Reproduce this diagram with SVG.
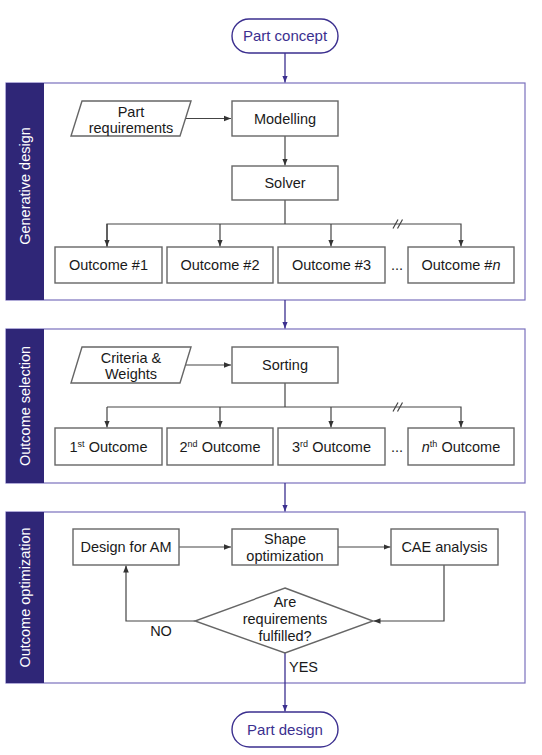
<svg xmlns="http://www.w3.org/2000/svg" width="542" height="755" viewBox="0 0 542 755">
<defs>
<marker id="ag" viewBox="0 0 10 10" refX="10" refY="5" markerWidth="7" markerHeight="7" orient="auto" markerUnits="userSpaceOnUse"><path d="M0,1 L10,5 L0,9 z" fill="#333"/></marker>
<marker id="ap" viewBox="0 0 10 10" refX="10" refY="5" markerWidth="7" markerHeight="7" orient="auto" markerUnits="userSpaceOnUse"><path d="M0,1 L10,5 L0,9 z" fill="#3b2f8f"/></marker>
</defs>
<style>
text{font-family:"Liberation Sans",Arial,sans-serif;font-size:14.5px;fill:#1a1a1a;text-anchor:middle}
.box{fill:#fff;stroke:#666;stroke-width:1.4}
.term{fill:#fff;stroke:#3b2f8f;stroke-width:1.4}
.term-t{fill:#3b2f8f;font-size:15px}
.panel{fill:#fff;stroke:#7a70bd;stroke-width:1.2}
.band{fill:#2f2677}
.band-t{fill:#fff;font-size:14.5px}
.g{fill:none;stroke:#444;stroke-width:1.2}
.p{fill:none;stroke:#3b2f8f;stroke-width:1.3}
.sup{font-size:9px}
</style>
<rect width="542" height="755" fill="#fff"/>

<g id="panel1">
<rect class="panel" x="6" y="83" width="519" height="217"/>
<rect class="band" x="6" y="83" width="38" height="217"/>
<text class="band-t" transform="translate(30,186) rotate(-90)">Generative design</text>
</g>
<g id="panel2">
<rect class="panel" x="6" y="329" width="519" height="154"/>
<rect class="band" x="6" y="329" width="38" height="154"/>
<text class="band-t" transform="translate(30,406) rotate(-90)">Outcome selection</text>
</g>
<g id="panel3">
<rect class="panel" x="6" y="512" width="519" height="171"/>
<rect class="band" x="6" y="512" width="38" height="171"/>
<text class="band-t" transform="translate(30,597.5) rotate(-90)">Outcome optimization</text>
</g>

<g id="connectors">
<path class="p" d="M285,53 V82.5" marker-end="url(#ap)"/>
<path class="p" d="M285,300 V328.5" marker-end="url(#ap)"/>
<path class="p" d="M285,483 V511.5" marker-end="url(#ap)"/>
<path class="g" d="M185.5,118.5 H231" marker-end="url(#ag)"/>
<path class="g" d="M285,136 V165.5" marker-end="url(#ag)"/>
<path class="g" d="M285,200 V224"/>
<path class="g" d="M107,247 V224 H461 V246.5" marker-end="url(#ag)"/>
<path class="g" d="M220,224 V246.5" marker-end="url(#ag)"/>
<path class="g" d="M331,224 V246.5" marker-end="url(#ag)"/>
<path class="g" d="M107,224 V246.5" marker-end="url(#ag)"/>
<path class="g" d="M393,228.5 L398,219.5 M397.5,228.5 L402.5,219.5"/>
<path class="g" d="M185.5,365 H231" marker-end="url(#ag)"/>
<path class="g" d="M285,383 V407"/>
<path class="g" d="M107,407 H461 V427.5" marker-end="url(#ag)"/>
<path class="g" d="M107,407 V427.5" marker-end="url(#ag)"/>
<path class="g" d="M220,407 V427.5" marker-end="url(#ag)"/>
<path class="g" d="M331,407 V427.5" marker-end="url(#ag)"/>
<path class="g" d="M393,411.5 L398,402.5 M397.5,411.5 L402.5,402.5"/>
<path class="g" d="M179,547 H231" marker-end="url(#ag)"/>
<path class="g" d="M338,547 H390.5" marker-end="url(#ag)"/>
<path class="g" d="M444,565 V621 H373.5" marker-end="url(#ag)"/>
<path class="g" d="M195,621 H126 V565.5" marker-end="url(#ag)"/>
<path class="p" d="M285,653 V711.5" marker-end="url(#ap)"/>
</g>

<g id="part-concept">
<rect class="term" x="232" y="19" width="106" height="34" rx="17"/>
<text class="term-t" x="285" y="41">Part concept</text>
</g>
<g id="part-requirements">
<polygon class="box" points="82,101 191,101 180,136 71,136"/>
<text x="131" y="116.5">Part</text>
<text x="131" y="132.5">requirements</text>
</g>
<g id="modelling">
<rect class="box" x="232" y="101" width="106" height="35"/>
<text x="285" y="123.5">Modelling</text>
</g>
<g id="solver">
<rect class="box" x="232" y="166" width="106" height="34"/>
<text x="285" y="188">Solver</text>
</g>
<g id="outcome1">
<rect class="box" x="55" y="247" width="107" height="36"/>
<text x="108.5" y="270">Outcome #1</text>
</g>
<g id="outcome2">
<rect class="box" x="167" y="247" width="106" height="36"/>
<text x="220" y="270">Outcome #2</text>
</g>
<g id="outcome3">
<rect class="box" x="278" y="247" width="107" height="36"/>
<text x="331.5" y="270">Outcome #3</text>
</g>
<text x="397" y="270">...</text>
<g id="outcomen">
<rect class="box" x="408" y="247" width="106" height="36"/>
<text x="461" y="270">Outcome #<tspan font-style="italic">n</tspan></text>
</g>

<g id="criteria">
<polygon class="box" points="82,347 191,347 180,383 71,383"/>
<text x="131" y="362.5">Criteria &amp;</text>
<text x="131" y="378.5">Weights</text>
</g>
<g id="sorting">
<rect class="box" x="232" y="347" width="106" height="36"/>
<text x="285" y="370">Sorting</text>
</g>
<g id="first">
<rect class="box" x="55" y="428" width="107" height="37"/>
<text x="108.5" y="451.5">1<tspan class="sup" dy="-5">st</tspan><tspan dy="5"> Outcome</tspan></text>
</g>
<g id="second">
<rect class="box" x="167" y="428" width="106" height="37"/>
<text x="220" y="451.5">2<tspan class="sup" dy="-5">nd</tspan><tspan dy="5"> Outcome</tspan></text>
</g>
<g id="third">
<rect class="box" x="278" y="428" width="107" height="37"/>
<text x="331.5" y="451.5">3<tspan class="sup" dy="-5">rd</tspan><tspan dy="5"> Outcome</tspan></text>
</g>
<text x="397" y="451.5">...</text>
<g id="nth">
<rect class="box" x="408" y="428" width="106" height="37"/>
<text x="461" y="451.5"><tspan font-style="italic">n</tspan><tspan class="sup" dy="-5">th</tspan><tspan dy="5"> Outcome</tspan></text>
</g>

<g id="design-am">
<rect class="box" x="73" y="529" width="106" height="36"/>
<text x="126" y="552">Design for AM</text>
</g>
<g id="shape-opt">
<rect class="box" x="232" y="529" width="106" height="36"/>
<text x="285" y="544">Shape</text>
<text x="285" y="561">optimization</text>
</g>
<g id="cae">
<rect class="box" x="391" y="529" width="107" height="36"/>
<text x="444.5" y="552">CAE analysis</text>
</g>
<g id="decision">
<polygon class="box" points="285,588 373,621 285,653 195,621"/>
<text x="285" y="607">Are</text>
<text x="285" y="624">requirements</text>
<text x="285" y="641">fulfilled?</text>
</g>
<text x="161" y="636">NO</text>
<text x="289" y="672" style="text-anchor:start">YES</text>
<g id="part-design">
<rect class="term" x="232" y="712" width="106" height="35" rx="17.5"/>
<text class="term-t" x="285" y="735">Part design</text>
</g>
</svg>
